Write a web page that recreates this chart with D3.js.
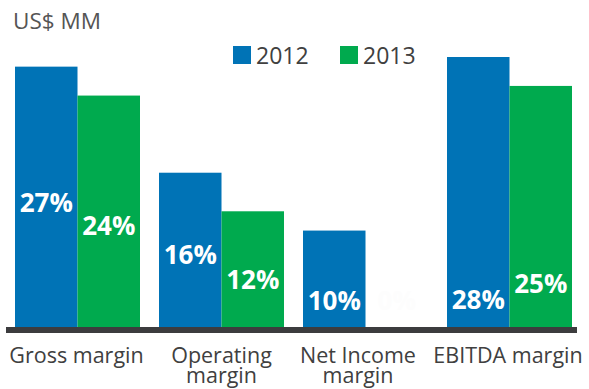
<!DOCTYPE html>
<html>
<head>
<meta charset="utf-8">
<script src="https://cdn.jsdelivr.net/npm/d3@7/dist/d3.min.js"></script>
<style>
  html, body { margin: 0; padding: 0; background: #fff; }
  svg { display: block; font-family: "Open Sans", "Noto Sans", sans-serif; }
</style>
</head>
<body>
<svg id="chart" width="589" height="389"></svg>
<script>
// Margin ratios by metric, in percent
const categories = ["Gross margin", "Operating margin", "Net Income margin", "EBITDA margin"];
const categoryLines = [["Gross margin"], ["Operating", "margin"], ["Net Income", "margin"], ["EBITDA margin"]];
const years = ["2012", "2013"];
const values2012 = [27, 16, 10, 28];
const values2013 = [24, 12, 0, 25];
const unitLabel = "US$ MM";

const colors = { "2012": "#0073b6", "2013": "#00aa4e" };

// value labels sit at a hand-tuned height above the axis (px)
const labelLift = { "2012": [115, 63, 17, 18], "2013": [92, 38, 17, 34] };

const svg = d3.select("#chart");
const baseY = 327;
const plotLeft = 15, groupStep = 144, groupWidth = 125;
const plotRight = plotLeft + groupStep * (categories.length - 1) + groupWidth;

// four groups of equal width, first and last flush with the plot edges
const x0 = d3.scaleBand()
  .domain(categories)
  .range([plotLeft, plotRight])
  .paddingInner(1 - groupWidth / groupStep)
  .paddingOuter(0);

const x1 = d3.scaleBand().domain(years).range([0, x0.bandwidth()]).padding(0);
const y = d3.scaleLinear().domain([0, 28]).range([baseY, baseY - 270]);

const series = { "2012": values2012, "2013": values2013 };

const groups = svg.append("g").selectAll("g")
  .data(categories)
  .join("g")
  .attr("transform", d => `translate(${x0(d)},0)`);

years.forEach(yr => {
  groups.append("rect")
    .attr("x", x1(yr))
    .attr("width", x1.bandwidth())
    .attr("y", (d, i) => y(series[yr][i]))
    .attr("height", (d, i) => baseY - y(series[yr][i]))
    .attr("fill", colors[yr]);

  // white labels; an empty bar leaves its label white on white
  groups.append("text")
    .attr("x", x1(yr) + x1.bandwidth() / 2)
    .attr("y", (d, i) => baseY - labelLift[yr][i])
    .attr("text-anchor", "middle")
    .attr("font-weight", 700)
    .attr("font-size", 26)
    .attr("fill", (d, i) => series[yr][i] === 0 ? "#fdfdfd" : "#ffffff")
    .text((d, i) => series[yr][i] + "%");
});

// axis baseline
const xAxis = d3.axisBottom(x0).tickSize(0).tickFormat("");
const axisG = svg.append("g").attr("transform", `translate(0,${baseY + 3})`).call(xAxis);
axisG.select(".domain").remove();
svg.append("line")
  .attr("x1", 6).attr("x2", 577)
  .attr("y1", baseY + 3).attr("y2", baseY + 3)
  .attr("stroke", "#3c3c3e").attr("stroke-width", 6);

// category labels, one text element per line
const labelShift = [-1, 0, -7.5, -1.5];
const catLabels = svg.append("g");
categories.forEach((c, i) => {
  const cx = x0(c) + x0.bandwidth() / 2 + labelShift[i];
  categoryLines[i].forEach((line, j) => {
    catLabels.append("text")
      .attr("x", cx)
      .attr("y", 363 + j * 20)
      .attr("text-anchor", "middle")
      .attr("font-size", 21.5)
      .attr("fill", "#404040")
      .text(line);
  });
});

// unit title
svg.append("text")
  .attr("x", 13).attr("y", 29)
  .attr("font-size", 22.5)
  .attr("fill", "#555555")
  .text(unitLabel);

// legend
const legendX = [233, 340];
const legend = svg.append("g").selectAll("g")
  .data(years)
  .join("g")
  .attr("transform", (d, i) => `translate(${legendX[i]},46)`);
legend.append("rect").attr("width", 18).attr("height", 18).attr("fill", d => colors[d]);
legend.append("text")
  .attr("x", 23).attr("y", 18)
  .attr("font-size", 23)
  .attr("fill", "#404040")
  .text(d => d);
</script>
</body>
</html>
